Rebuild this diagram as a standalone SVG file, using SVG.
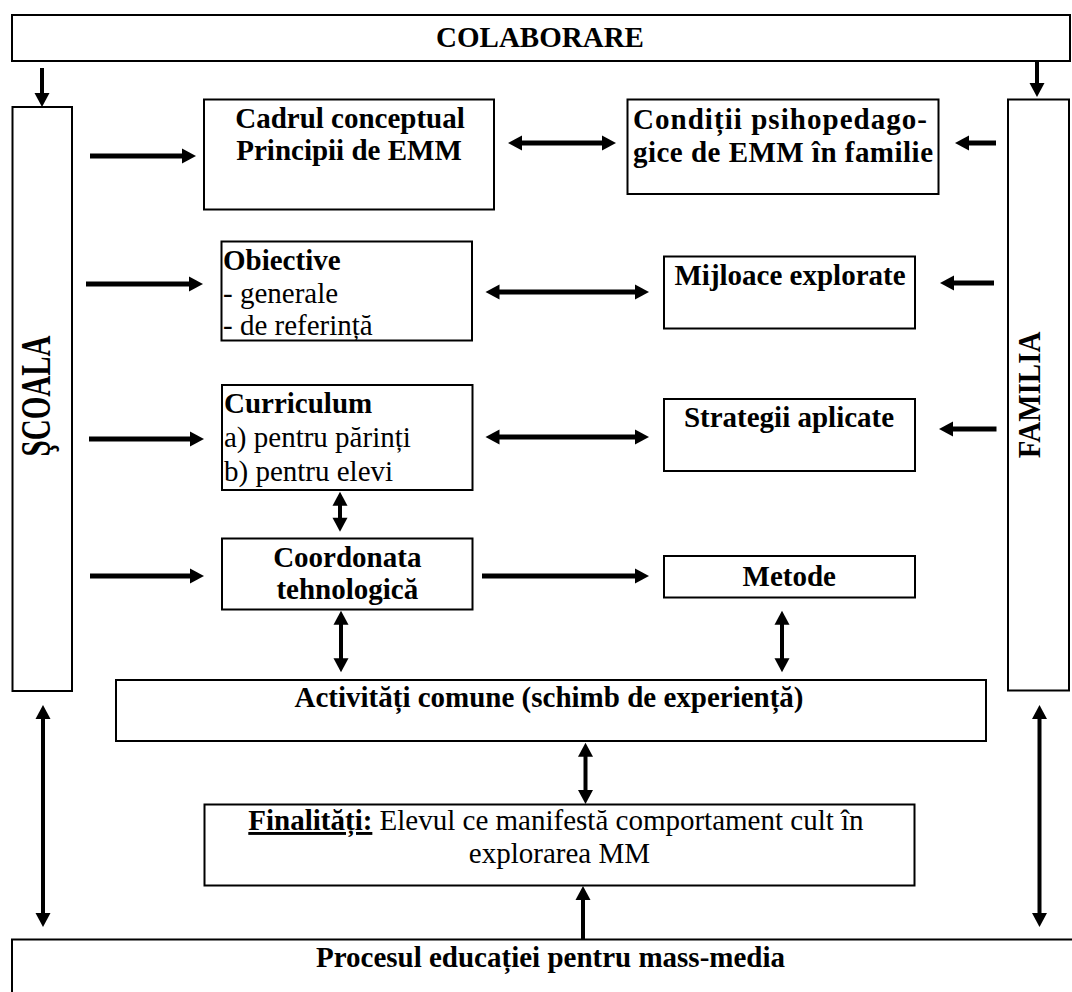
<svg xmlns="http://www.w3.org/2000/svg" width="1072" height="992" viewBox="0 0 1072 992">
<style>
.box{fill:#fff;stroke:#000;stroke-width:2}
text{fill:#000;font-size:29px}
.b{font-weight:bold}
.c{text-anchor:middle}
.h{stroke:#000;stroke-width:5;fill:none;marker-end:url(#ah)}
.d{stroke:#000;stroke-width:5;fill:none;marker-end:url(#ah);marker-start:url(#ah)}
.v{stroke:#000;stroke-width:4;fill:none;marker-end:url(#ah)}
.vd{stroke:#000;stroke-width:4;fill:none;marker-end:url(#ah);marker-start:url(#ah)}
</style>
<defs>
<marker id="ah" markerUnits="userSpaceOnUse" markerWidth="15" markerHeight="15" refX="4" refY="7.5" orient="auto-start-reverse" overflow="visible">
<path d="M0,0 L14,7.5 L0,15 z" fill="#000"/>
</marker>
</defs>
<rect width="1072" height="992" fill="#fff"/>
<g font-family="'Liberation Serif', 'Times New Roman', 'DejaVu Serif', serif">
<g id="colaborare">
<rect class="box" x="12" y="15" width="1058" height="46"/>
<text class="b c" x="540" y="47" font-size="31.5">COLABORARE</text>
</g>

<g id="scoala">
<rect class="box" x="12.5" y="107" width="59.5" height="584"/>
<text class="b c" font-size="28" transform="translate(50,396) rotate(-90) scale(1,1.45)">ŞCOALA</text>
</g>

<g id="familia">
<rect class="box" x="1008" y="99.5" width="61" height="591"/>
<text class="b c" font-size="32" transform="translate(1040,395) rotate(-90) scale(1,1.08)">FAMILIA</text>
</g>

<g id="cadrul">
<rect class="box" x="204" y="99.5" width="290" height="110"/>
<text class="b c" x="350" y="128">Cadrul conceptual</text>
<text class="b c" x="349" y="160">Principii de EMM</text>
</g>

<g id="conditii">
<rect class="box" x="627.5" y="99.5" width="311" height="94.5"/>
<text class="b" x="633" y="129.3" textLength="294">Condiții psihopedago-</text>
<text class="b" x="633" y="161.7" textLength="300">gice de EMM în familie</text>
</g>

<g id="obiective">
<rect class="box" x="221.5" y="241.5" width="250.5" height="99"/>
<text class="b" x="223" y="270">Obiective</text>
<text x="223" y="302.7">- generale</text>
<text x="223" y="335">- de referință</text>
</g>

<g id="mijloace">
<rect class="box" x="664" y="256.5" width="251" height="72"/>
<text class="b c" x="790" y="285">Mijloace explorate</text>
</g>

<g id="curriculum">
<rect class="box" x="222" y="385" width="250.5" height="105"/>
<text class="b" x="224" y="412.7">Curriculum</text>
<text x="224" y="447.3">a) pentru părinți</text>
<text x="224" y="480.7">b) pentru elevi</text>
</g>

<g id="strategii">
<rect class="box" x="664" y="399" width="251" height="72"/>
<text class="b c" x="789" y="427.3">Strategii aplicate</text>
</g>

<g id="coordonata">
<rect class="box" x="222" y="538.5" width="250.5" height="71"/>
<text class="b c" x="347.3" y="567.3">Coordonata</text>
<text class="b c" x="347.3" y="599.3">tehnologică</text>
</g>

<g id="metode">
<rect class="box" x="664" y="556" width="251" height="41.5"/>
<text class="b c" x="789.3" y="585.7">Metode</text>
</g>

<g id="activitati">
<rect class="box" x="116" y="680" width="870" height="61"/>
<text class="b c" x="549" y="706.7" font-size="30.3">Activități comune (schimb de experiență)</text>
</g>

<g id="finalitati">
<rect class="box" x="204.5" y="804.5" width="710" height="81"/>
<text x="248.3" y="830" font-size="29.5"><tspan class="b" text-decoration="underline">Finalități:</tspan> Elevul ce manifestă comportament cult în</text>
<text class="c" x="559.4" y="863">explorarea MM</text>
</g>

<g id="procesul">
<rect class="box" x="12" y="939.5" width="1070" height="60"/>
<text class="b c" x="550.5" y="966.7">Procesul educației pentru mass-media</text>
</g>
</g>
<g id="connectors">
<line class="v" x1="42" y1="68" x2="42" y2="97"/>
<line class="v" x1="1037" y1="61" x2="1037" y2="87"/>
<line class="h" x1="90" y1="156" x2="186" y2="156"/>
<line class="d" x1="518" y1="143" x2="606" y2="143"/>
<line class="h" x1="996" y1="143" x2="965" y2="143"/>
<line class="h" x1="86" y1="284" x2="193" y2="284"/>
<line class="d" x1="495.5" y1="292" x2="639" y2="292"/>
<line class="h" x1="994" y1="283" x2="950" y2="283"/>
<line class="h" x1="89" y1="439" x2="194" y2="439"/>
<line class="d" x1="495.5" y1="437" x2="639" y2="437"/>
<line class="h" x1="996.5" y1="429" x2="949" y2="429"/>
<line class="vd" x1="340" y1="501.7" x2="340" y2="521.7"/>
<line class="h" x1="90" y1="576" x2="194" y2="576"/>
<line class="h" x1="482" y1="576" x2="639" y2="576"/>
<line class="vd" x1="341" y1="620.7" x2="341" y2="662.3"/>
<line class="vd" x1="782" y1="620.7" x2="782" y2="662.3"/>
<line class="vd" x1="43" y1="715" x2="43" y2="917"/>
<line class="vd" x1="1039.5" y1="715" x2="1039.5" y2="917"/>
<line class="vd" x1="585.5" y1="752.7" x2="585.5" y2="794"/>
<line class="v" x1="583" y1="939" x2="583" y2="896"/>
</g>
</svg>
